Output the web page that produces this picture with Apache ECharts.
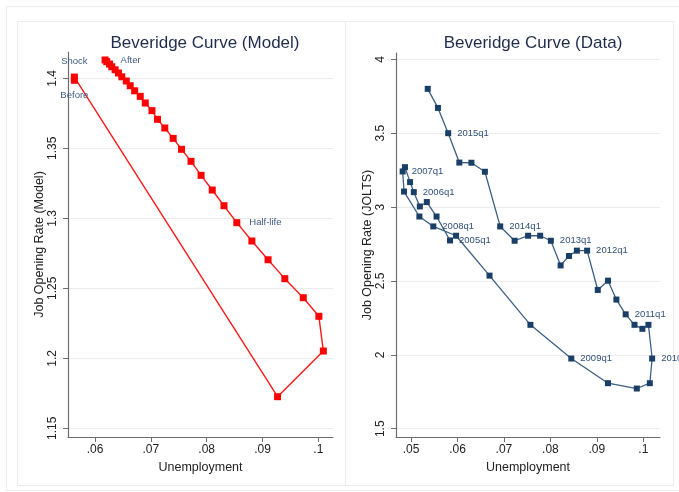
<!DOCTYPE html>
<html>
<head>
<meta charset="utf-8">
<script src="https://cdn.jsdelivr.net/npm/echarts@6/dist/echarts.min.js"></script>
<style>
  html, body { margin: 0; padding: 0; background: #fff; }
  #chart { width: 679px; height: 492px; }
</style>
</head>
<body>
<div id="chart"></div>
<script>
// model panel: unemployment / job opening rate path
var modelU = [0.0563, 0.0563, 0.0927, 0.1009, 0.1001, 0.0973, 0.0940, 0.0910, 0.0881, 0.0854,
  0.0831, 0.0810, 0.0790, 0.0772, 0.0755, 0.0740, 0.0725, 0.0712, 0.0702, 0.0690,
  0.0681, 0.0671, 0.0663, 0.0656, 0.0648, 0.0642, 0.0636, 0.0630, 0.0626, 0.0621, 0.0618];
var modelV = [1.3986, 1.4009, 1.1726, 1.2052, 1.2300, 1.2433, 1.2569, 1.2704, 1.2838, 1.2969,
  1.3090, 1.3202, 1.3307, 1.3407, 1.3493, 1.3571, 1.3645, 1.3707, 1.3769, 1.3824,
  1.3871, 1.3911, 1.3947, 1.3981, 1.4011, 1.4038, 1.4061, 1.4083, 1.4102, 1.4119, 1.4131];
var modelLabels = ['Before', 'Shock', '', '', '', '', '', '', '', 'Half-life',
  '', '', '', '', '', '', '', '', '', '', '', '', '', '', '', '', '', '', '', '', 'After'];

// data panel: JOLTS
var dataU = [0.0584, 0.0555, 0.0534, 0.0519, 0.0506, 0.0498, 0.0487, 0.0482, 0.0485, 0.0518,
  0.0548, 0.0597, 0.0669, 0.0757, 0.0845, 0.0924, 0.0986, 0.1014, 0.1019, 0.1011,
  0.0998, 0.0981, 0.0962, 0.0942, 0.0924, 0.0902, 0.0879, 0.0857, 0.0840, 0.0822,
  0.0801, 0.0778, 0.0752, 0.0723, 0.0692, 0.0659, 0.0630, 0.0604, 0.0580, 0.0558, 0.0536];
var dataV = [2.774, 2.936, 3.034, 3.004, 3.101, 3.169, 3.270, 3.241, 3.105, 2.936,
  2.869, 2.806, 2.536, 2.203, 1.975, 1.808, 1.772, 1.808, 1.975, 2.203,
  2.176, 2.203, 2.274, 2.374, 2.502, 2.439, 2.705, 2.705, 2.669, 2.605,
  2.772, 2.806, 2.806, 2.772, 2.869, 3.239, 3.300, 3.301, 3.500, 3.671, 3.800];
var dataLabels = ['2005q1', '', '', '', '2006q1', '', '', '2007q1', '', '',
  '2008q1', '', '', '', '2009q1', '', '', '', '2010q1', '',
  '', '', '2011q1', '', '', '', '2012q1', '', '', '',
  '2013q1', '', '', '', '2014q1', '', '', '', '2015q1', '', ''];

var modelXTicks = [0.06, 0.07, 0.08, 0.09, 0.1];
var modelYTicks = [1.15, 1.2, 1.25, 1.3, 1.35, 1.4];
var dataXTicks = [0.05, 0.06, 0.07, 0.08, 0.09, 0.1];
var dataYTicks = [1.5, 2, 2.5, 3, 3.5, 4];

var chart = echarts.init(document.getElementById('chart'));

var font = 'Liberation Sans, Arial, sans-serif';

function dotFmt(v) {
  return String(+v.toFixed(2)).replace(/^0/, '');
}

// label placement for the model panel
var modelLabelPos = { 'Before': 'bottom', 'Shock': 'top', 'Half-life': 'right', 'After': 'right' };

var modelData = modelU.map(function (u, i) {
  var item = { value: [u, modelV[i]] };
  if (modelLabels[i]) {
    item.label = {
      show: true,
      formatter: modelLabels[i],
      position: modelLabelPos[modelLabels[i]],
      distance: modelLabels[i] == 'After' ? 12 : (modelLabels[i] == 'Half-life' ? 9 : 7)
    };
  }
  return item;
});

var jolts = dataU.map(function (u, i) {
  var item = { value: [u, dataV[i]] };
  if (dataLabels[i]) {
    item.label = { show: true, formatter: dataLabels[i], position: 'right', distance: 6 };
  }
  return item;
});

function xAxisOf(grid, min, max, ticks) {
  return {
    gridIndex: grid, type: 'value', min: min, max: max,
    name: 'Unemployment', nameLocation: 'middle', nameGap: 20,
    nameTextStyle: { color: '#222', fontSize: 12.5, fontFamily: font },
    axisLine: { show: true, onZero: false, lineStyle: { color: '#6e6e6e', width: 1.2 } },
    axisTick: { show: true, length: 5, customValues: ticks, lineStyle: { color: '#6e6e6e' } },
    axisLabel: { customValues: ticks, formatter: dotFmt, margin: 7, color: '#222', fontSize: 12, fontFamily: font },
    splitLine: { show: false }
  };
}

function yAxisOf(grid, min, max, ticks, name, fmt, gap) {
  return {
    gridIndex: grid, type: 'value', min: min, max: max,
    name: name, nameLocation: 'middle', nameGap: gap, nameRotate: 90,
    nameTextStyle: { color: '#222', fontSize: 12.5, fontFamily: font },
    axisLine: { show: true, onZero: false, lineStyle: { color: '#6e6e6e', width: 1.2 } },
    axisTick: { show: true, length: 5, customValues: ticks, lineStyle: { color: '#6e6e6e' } },
    axisLabel: { customValues: ticks, rotate: 90, formatter: fmt, margin: 9, color: '#222', fontSize: 12, fontFamily: font },
    splitLine: { show: true, lineStyle: { color: '#ececec', width: 1 } }
  };
}

var option = {
  backgroundColor: '#fff',
  animation: false,
  graphic: [
    { type: 'rect', shape: { x: 6.5, y: 6.5, width: 680, height: 484 }, style: { fill: 'none', stroke: '#ececec' } },
    { type: 'rect', shape: { x: 17.5, y: 21.5, width: 328, height: 464 }, style: { fill: 'none', stroke: '#ececec' } },
    { type: 'rect', shape: { x: 345.5, y: 21.5, width: 328, height: 464 }, style: { fill: 'none', stroke: '#ececec' } }
  ],
  title: [
    { text: 'Beveridge Curve (Model)', left: 200, top: 30, textAlign: 'center',
      textStyle: { color: '#1f2d4d', fontSize: 17, fontWeight: 'normal', fontFamily: font } },
    { text: 'Beveridge Curve (Data)', left: 528, top: 30, textAlign: 'center',
      textStyle: { color: '#1f2d4d', fontSize: 17, fontWeight: 'normal', fontFamily: font } }
  ],
  grid: [
    { left: 68, top: 52, width: 265, height: 385 },
    { left: 396, top: 53, width: 264, height: 384 }
  ],
  xAxis: [
    xAxisOf(0, 0.05516, 0.10263, modelXTicks),
    xAxisOf(1, 0.04677, 0.10359, dataXTicks)
  ],
  yAxis: [
    yAxisOf(0, 1.1438, 1.4188, modelYTicks, 'Job Opening Rate (Model)', function (v) { return String(+v.toFixed(2)); }, 22),
    yAxisOf(1, 1.4439, 4.0426, dataYTicks, 'Job Opening Rate (JOLTS)', function (v) { return String(+v.toFixed(1)); }, 22)
  ],
  series: [
    {
      name: 'Model', type: 'line', xAxisIndex: 0, yAxisIndex: 0,
      data: modelData, symbol: 'rect', symbolSize: 7, showAllSymbol: true,
      lineStyle: { color: '#ff1a1a', width: 1.4 },
      itemStyle: { color: '#ff0000' },
      label: { color: '#3d5a80', fontSize: 9.5, fontFamily: font },
      emphasis: { disabled: true }
    },
    {
      name: 'Data', type: 'line', xAxisIndex: 1, yAxisIndex: 1,
      data: jolts, symbol: 'rect', symbolSize: 6, showAllSymbol: true,
      lineStyle: { color: '#3d5f85', width: 1.3 },
      itemStyle: { color: '#1a3f66' },
      label: { color: '#2e5078', fontSize: 9.5, fontFamily: font },
      labelLayout: { hideOverlap: false },
      emphasis: { disabled: true }
    }
  ]
};

chart.setOption(option);
</script>
</body>
</html>
